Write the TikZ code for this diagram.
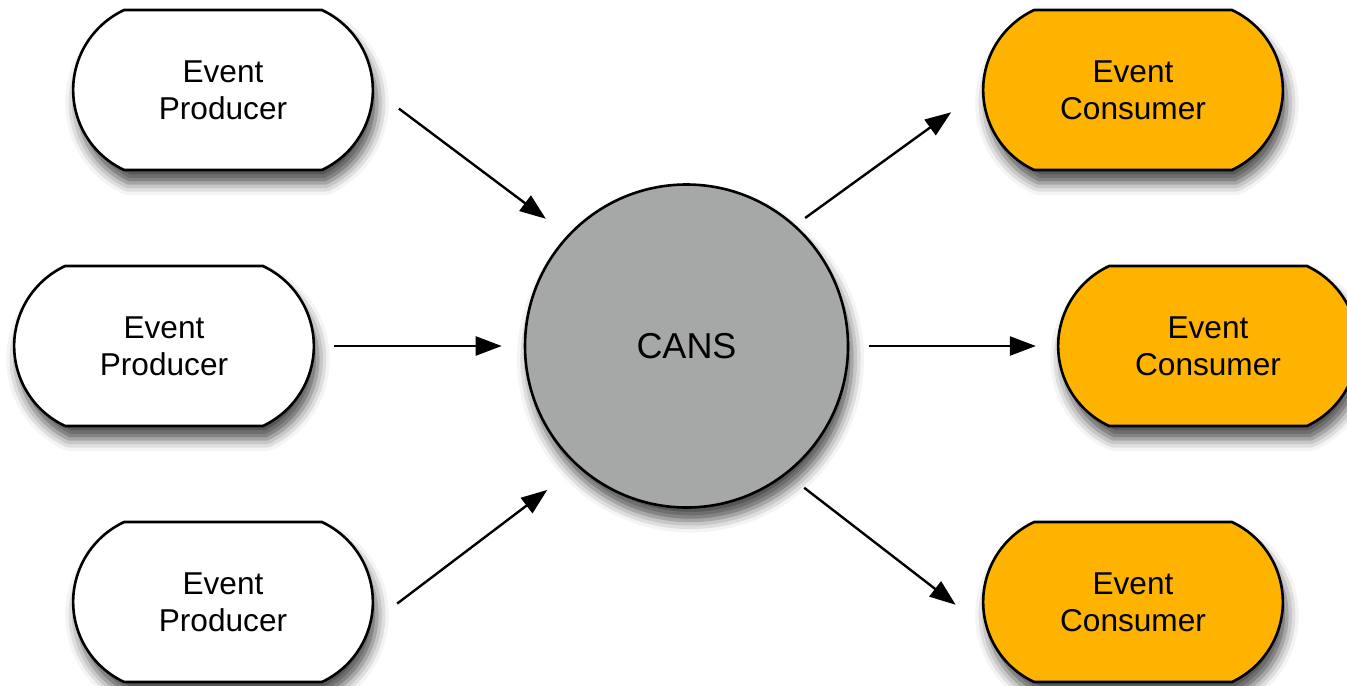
\documentclass[tikz,border=0pt]{standalone}
\usepackage{fontspec}
\setmainfont{Liberation Sans}
\usetikzlibrary{shapes.misc,shadows.blur,arrows.meta}
\definecolor{consumerorange}{HTML}{FDB300}
\definecolor{cansgray}{HTML}{A6A8A7}
\tikzset{
  event/.style={rounded rectangle,rounded rectangle arc length=130,draw,line width=1.3pt,
    minimum width=156.5pt,minimum height=80pt,align=center,font=\fontsize{15.8}{18.5}\selectfont,
    blur shadow={shadow xshift=2pt,shadow yshift=-6.5pt,shadow blur radius=6pt,shadow opacity=70}},
  producer/.style={event,fill=white},
  consumer/.style={event,fill=consumerorange},
  hub/.style={circle,draw,line width=1.3pt,fill=cansgray,inner sep=0pt,minimum size=161.5pt,
    font=\fontsize{18}{21}\selectfont,
    blur shadow={shadow xshift=2pt,shadow yshift=-6.5pt,shadow blur radius=6pt,shadow opacity=70}},
  flow/.style={-{Triangle[length=13pt,width=9.5pt]},line width=1.2pt}
}
\begin{document}
\begin{tikzpicture}[x=0.5pt,y=-0.5pt]
\useasboundingbox (0,0) rectangle (1347,685);
\node[producer] (prodA) at (223,90) {Event\\Producer};
\node[producer] (prodB) at (164,346) {Event\\Producer};
\node[producer] (prodC) at (223,602) {Event\\Producer};
\node[hub] (cans) at (686.5,346) {CANS};
\node[consumer] (consA) at (1133,90) {Event\\Consumer};
\node[consumer] (consB) at (1208,346) {Event\\Consumer};
\node[consumer] (consC) at (1133,602) {Event\\Consumer};
% producers into CANS
\draw[flow,shorten <=15.5pt,shorten >=13.5pt] (prodA.east) -- (cans.137);
\draw[flow,shorten <=9.5pt,shorten >=11pt] (prodB.east) -- (cans.west);
\draw[flow,shorten <=16pt,shorten >=19pt] (prodC.-8) -- (cans.-132.6);
% CANS out to consumers
\draw[flow,shorten <=6pt,shorten >=19pt] (cans.48.6) -- (consA.west);
\draw[flow,shorten <=10pt,shorten >=10.5pt] (cans.east) -- (consB.west);
\draw[flow,shorten <=11pt,shorten >=19pt] (cans.-52) -- (consC.190);
\end{tikzpicture}
\end{document}
